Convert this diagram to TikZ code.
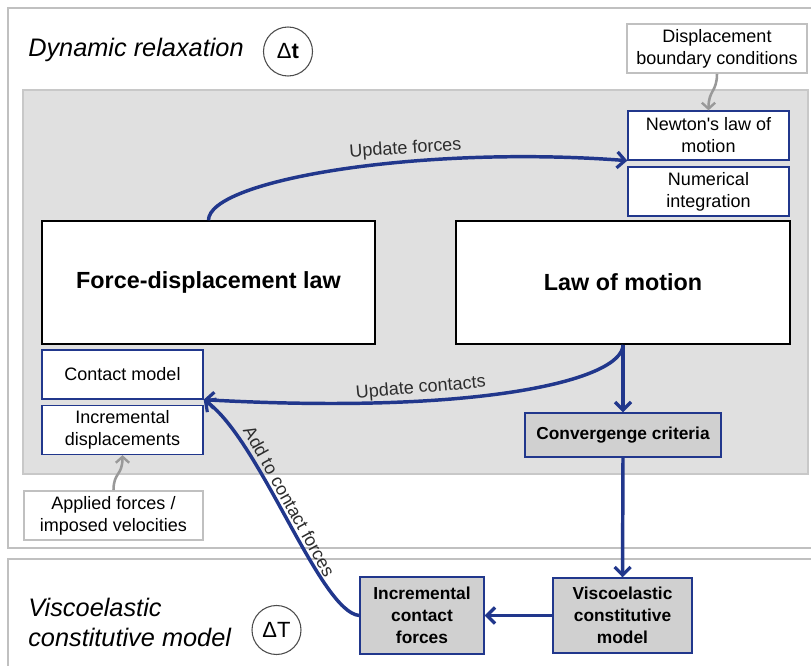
\documentclass[tikz,border=0pt]{standalone}
\usepackage{fontspec}
\setmainfont{Liberation Sans}
\usetikzlibrary{arrows.meta}

\definecolor{flowblue}{RGB}{33,55,140}
\definecolor{panelgrey}{RGB}{224,224,224}
\definecolor{paneledge}{RGB}{200,200,200}
\definecolor{framegrey}{RGB}{192,192,192}
\definecolor{boxgrey}{RGB}{208,208,208}
\definecolor{labelgrey}{RGB}{45,45,45}

\begin{document}
\begin{tikzpicture}[x=0.75pt,y=0.75pt,yscale=-1,xscale=1,
  bigbox/.style={draw=black,line width=1.4pt,fill=white,minimum width=250pt,minimum height=92pt,
    font=\fontsize{17.5}{21}\selectfont\bfseries},
  subbox/.style={draw=flowblue,line width=1pt,fill=white,minimum width=120.75pt,minimum height=36.75pt,
    align=center,inner sep=1pt,font=\fontsize{13.5}{16.5}\selectfont},
  inbox/.style={draw=framegrey,line width=1.2pt,fill=white,minimum height=36.75pt,
    align=center,inner sep=1pt,font=\fontsize{13.5}{16.5}\selectfont},
  stepbox/.style={draw=flowblue,line width=1.1pt,fill=boxgrey,align=center,inner sep=1pt,
    font=\fontsize{13}{16.5}\selectfont\bfseries},
  tstep/.style={draw=black!70,circle,line width=0.8pt,fill=white,minimum size=36.75pt,inner sep=0pt,
    font=\fontsize{16.5}{18}\selectfont},
  flow/.style={draw=flowblue,line width=2.6pt,-{Straight Barb[length=6pt,width=12pt,line width=2.4pt]}},
  feed/.style={draw=black!40,line width=1.9pt,-{Straight Barb[length=4.5pt,width=10pt,line width=1.8pt]}},
  flowlabel/.style={text=labelgrey,font=\fontsize{13.5}{16}\selectfont,inner sep=2pt}
]
\useasboundingbox (0,0) rectangle (811,666);

%Panels
\draw [framegrey,line width=1.5pt,fill=white] (8,8) rectangle (830,548);
\draw [framegrey,line width=1.5pt,fill=white] (8,559) rectangle (830,690);
\draw [paneledge,line width=1.2pt,fill=panelgrey] (23,90) rectangle (808,474);

%Titles
\node [anchor=base west,inner sep=0pt,font=\fontsize{19}{22.5}\selectfont\itshape] (drtitle) at (28,57) {Dynamic relaxation};
\node [tstep] (dt) at (288,51.5) {Δ\textbf{t}};
\node [anchor=west,inner sep=0pt,align=left,font=\fontsize{19}{22.5}\selectfont\itshape] (vctitle) at (28,622.5) {Viscoelastic\\constitutive model};
\node [tstep] (bigdt) at (276.5,630) {ΔT};

%Main boxes
\node [bigbox] (fdlaw) at (208.5,282.5) {Force-displacement law};
\node [bigbox] (lom) at (623,282.5) {Law of motion};

%Sub boxes
\node [subbox] (newton) at (708.5,135.5) {Newton\textquotesingle s law of\\motion};
\node [subbox] (numint) at (708.5,191.5) {Numerical\\integration};
\node [subbox] (contact) at (122.5,374.5) {Contact model};
\node [subbox] (incdisp) at (122.5,430) {Incremental\\displacements};

%Boundary inputs
\node [inbox,minimum width=135pt] (dispbc) at (717,48.5) {Displacement\\boundary conditions};
\node [inbox,minimum width=134.25pt] (applied) at (113.5,515.5) {Applied forces /\\imposed velocities};

%Steps
\node [stepbox,minimum width=147pt,minimum height=33pt] (conv) at (623,435) {Convergenge criteria};
\node [stepbox,minimum width=104.25pt,minimum height=56.25pt] (visco) at (622.5,615.5) {Viscoelastic\\constitutive\\model};
\node [stepbox,minimum width=93pt,minimum height=57.75pt] (incforce) at (422,615.5) {Incremental\\contact\\forces};

%Connectors
\draw [flow] (fdlaw.north) .. controls (208.5,180) and (420,145) .. (newton.south west)
  node [flowlabel,pos=0.63,anchor=south,rotate=4] {Update forces};
\draw [flow] (lom.south) .. controls (623,380) and (480,415) .. (contact.south east)
  node [flowlabel,pos=0.69,anchor=south,rotate=5] {Update contacts};
\draw [flow] (lom.south) -- (conv.north);
\draw [flow] (conv.south) -- (visco.north);
\draw [flow] (visco.west) -- (incforce.east);
\draw [flow] (incforce.west) .. controls (320,612) and (260,440) .. (contact.south east)
  node [flowlabel,pos=0.55,anchor=south,rotate=-61] {Add to contact forces};

\draw [feed] (dispbc.south) .. controls (717,92) and (708.5,90) .. (newton.north);
\draw [feed] (applied.north) .. controls (113.5,472) and (122.5,476) .. (incdisp.south);

\end{tikzpicture}
\end{document}
